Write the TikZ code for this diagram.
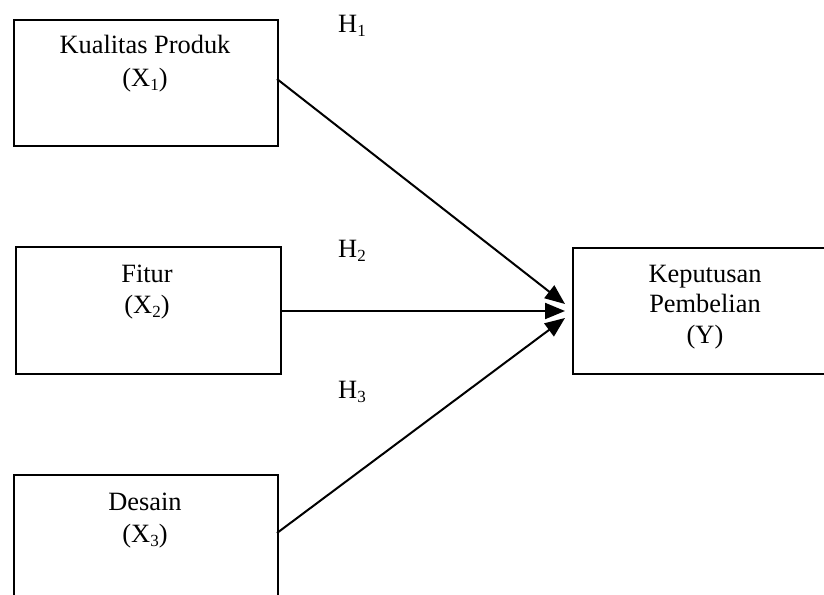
\documentclass[tikz,border=0pt]{standalone}
\usepackage{fontspec}
\setmainfont{Liberation Serif}
\usetikzlibrary{arrows.meta}
\newcommand{\mysub}[1]{\raisebox{-4pt}{\fontsize{17}{17}\selectfont #1}}
\begin{document}
\begin{tikzpicture}[x=1pt,y=-1pt,
  box/.style={draw,line width=2pt,inner sep=0pt},
  lbl/.style={anchor=base,inner sep=0pt,font=\fontsize{26.4}{30}\selectfont},
  hlbl/.style={anchor=base west,inner sep=0pt,font=\fontsize{26.4}{30}\selectfont},
  arr/.style={line width=2pt,-{Triangle[length=20pt,width=16pt]}}]
\useasboundingbox (0,0) rectangle (824,594);
\clip (0,0) rectangle (824,594);
% boxes
\node[box,minimum width=264pt,minimum height=126pt,anchor=north west] (b1) at (13,19) {};
\node[box,minimum width=265pt,minimum height=127pt,anchor=north west] (b2) at (15,246) {};
\node[box,minimum width=264pt,minimum height=150pt,anchor=north west] (b3) at (13,474) {};
\node[box,minimum width=266pt,minimum height=126pt,anchor=north west] (by) at (572,247) {};
% texts
\node[lbl] (t1a) at (145,53) {Kualitas Produk};
\node[lbl] (t1b) at (145,86) {(X\mysub{1})};
\node[lbl] (t2a) at (147,282) {Fitur};
\node[lbl] (t2b) at (147,313) {(X\mysub{2})};
\node[lbl] (t3a) at (145,510) {Desain};
\node[lbl] (t3b) at (145,542) {(X\mysub{3})};
\node[lbl] (tya) at (705,282) {Keputusan};
\node[lbl] (tyb) at (705,312) {Pembelian};
\node[lbl] (tyc) at (705,343) {(Y)};
% hypothesis labels
\node[hlbl] (h1) at (338,33) {H\mysub{1}};
\node[hlbl] (h2) at (338,257) {H\mysub{2}};
\node[hlbl] (h3) at (338,398) {H\mysub{3}};
% connector endpoints
\coordinate (s1) at (277,79);
\coordinate (s2) at (280,311);
\coordinate (s3) at (277,533);
\coordinate (e1) at (565,304);
\coordinate (e2) at (565,311);
\coordinate (e3) at (565,318);
\draw[arr] (s1) -- (e1);
\draw[arr] (s2) -- (e2);
\draw[arr] (s3) -- (e3);
\end{tikzpicture}
\end{document}
